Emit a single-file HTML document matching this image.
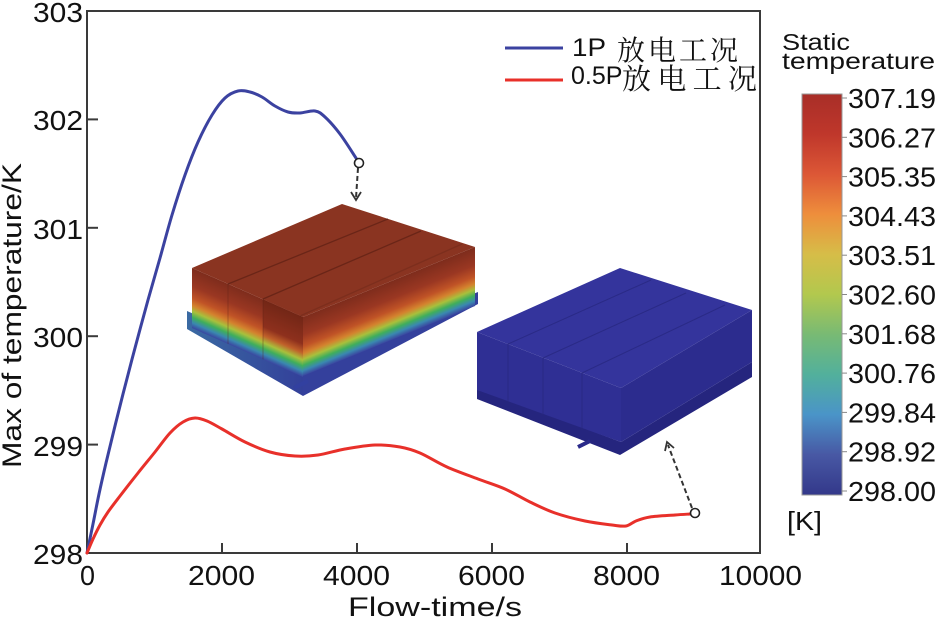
<!DOCTYPE html>
<html>
<head>
<meta charset="utf-8">
<style>
html,body{margin:0;padding:0;background:#fff;}
svg{display:block;}
text{font-family:"Liberation Sans","Noto Sans CJK SC",sans-serif;fill:#111;}
.cjk{font-family:"Liberation Serif","Noto Serif CJK SC",serif;}
</style>
</head>
<body>
<svg id="chart" width="937" height="618" viewBox="0 0 937 618" xmlns="http://www.w3.org/2000/svg">
<defs>
  <linearGradient id="cb" x1="0" y1="0" x2="0" y2="1">
    <stop offset="0" stop-color="#a82e28"/>
    <stop offset="0.1" stop-color="#bf372b"/>
    <stop offset="0.2" stop-color="#dc5736"/>
    <stop offset="0.3" stop-color="#ee8e3c"/>
    <stop offset="0.4" stop-color="#d6bd48"/>
    <stop offset="0.5" stop-color="#b2c84e"/>
    <stop offset="0.6" stop-color="#78ba74"/>
    <stop offset="0.7" stop-color="#52b09c"/>
    <stop offset="0.8" stop-color="#4a94c8"/>
    <stop offset="0.9" stop-color="#4858a4"/>
    <stop offset="1" stop-color="#33388a"/>
  </linearGradient>
  <linearGradient id="hot" x1="0" y1="0" x2="0" y2="1">
    <stop offset="0" stop-color="#7e2c1c"/>
    <stop offset="0.3" stop-color="#9a3722"/>
    <stop offset="0.5" stop-color="#c05326"/>
    <stop offset="0.62" stop-color="#d4822e"/>
    <stop offset="0.72" stop-color="#a8c03c"/>
    <stop offset="0.82" stop-color="#3fae5c"/>
    <stop offset="0.91" stop-color="#3a88b0"/>
    <stop offset="1" stop-color="#3a46a0"/>
  </linearGradient>
  <linearGradient id="hotdark" x1="0" y1="0" x2="0" y2="1">
    <stop offset="0" stop-color="#722616"/>
    <stop offset="0.45" stop-color="#8e301d"/>
    <stop offset="0.6" stop-color="#c0602a"/>
    <stop offset="0.72" stop-color="#a8c03c"/>
    <stop offset="0.82" stop-color="#3fae5c"/>
    <stop offset="0.91" stop-color="#3a88b0"/>
    <stop offset="1" stop-color="#3a46a0"/>
  </linearGradient>
  <linearGradient id="plate1" x1="0" y1="0" x2="1" y2="0">
    <stop offset="0" stop-color="#3a6aa2"/>
    <stop offset="1" stop-color="#33409a"/>
  </linearGradient>
</defs>

<!-- plot frame -->
<rect x="87" y="11" width="673" height="542" fill="none" stroke="#3a3a3a" stroke-width="2"/>
<g stroke="#3a3a3a" stroke-width="2">
  <line x1="87" y1="119.4" x2="98" y2="119.4"/>
  <line x1="87" y1="227.8" x2="98" y2="227.8"/>
  <line x1="87" y1="336.2" x2="98" y2="336.2"/>
  <line x1="87" y1="444.6" x2="98" y2="444.6"/>
  <line x1="222" y1="553" x2="222" y2="543"/>
  <line x1="357" y1="553" x2="357" y2="543"/>
  <line x1="492" y1="553" x2="492" y2="543"/>
  <line x1="627" y1="553" x2="627" y2="543"/>
</g>

<g font-size="28">
  <text x="33" y="22" textLength="50" lengthAdjust="spacingAndGlyphs">303</text>
  <text x="33" y="130" textLength="50" lengthAdjust="spacingAndGlyphs">302</text>
  <text x="33" y="239" textLength="50" lengthAdjust="spacingAndGlyphs">301</text>
  <text x="33" y="347" textLength="50" lengthAdjust="spacingAndGlyphs">300</text>
  <text x="33" y="456" textLength="50" lengthAdjust="spacingAndGlyphs">299</text>
  <text x="33" y="564" textLength="50" lengthAdjust="spacingAndGlyphs">298</text>
</g>
<g font-size="28">
  <text x="80" y="585" textLength="15" lengthAdjust="spacingAndGlyphs">0</text>
  <text x="188" y="585" textLength="67" lengthAdjust="spacingAndGlyphs">2000</text>
  <text x="323" y="585" textLength="67" lengthAdjust="spacingAndGlyphs">4000</text>
  <text x="458" y="585" textLength="67" lengthAdjust="spacingAndGlyphs">6000</text>
  <text x="593" y="585" textLength="67" lengthAdjust="spacingAndGlyphs">8000</text>
  <text x="719" y="585" textLength="83" lengthAdjust="spacingAndGlyphs">10000</text>
</g>
<text x="348" y="616" font-size="27" textLength="174" lengthAdjust="spacingAndGlyphs">Flow-time/s</text>
<text transform="translate(21,468) rotate(-90)" x="0" y="0" font-size="27" textLength="305" lengthAdjust="spacingAndGlyphs">Max of temperature/K</text>

<!-- curves -->
<polyline class="smooth" fill="none" stroke="#3b42a0" stroke-width="3" stroke-linejoin="round" stroke-linecap="round"
 points="87,553 93,524 99,494 106,463 114,430 123,394 135,348 148,300 160,258 172,215 185,175 198,142 212,115 225,98 238,91 250,92 262,97 275,106 288,112 300,113 315,111 325,117 340,134 356,158"/>
<polyline class="smooth" fill="none" stroke="#e8302a" stroke-width="3" stroke-linejoin="round" stroke-linecap="round"
 points="87,553 93,539 100,525 108,512 120,496 138,473 155,452 170,433 183,422 195,418 207,421 222,429 245,442 270,452 295,456 318,455 345,449 375,445 400,447 420,453 447,467 478,479 505,489 530,502 555,513 585,521 612,525 626,526 636,521 650,517 675,515 690,514"/>

<!-- legend -->
<line x1="505" y1="48" x2="563" y2="48" stroke="#3b42a0" stroke-width="3"/>
<line x1="505" y1="80" x2="563" y2="80" stroke="#e8302a" stroke-width="3"/>
<text x="572" y="56" font-size="25" textLength="34" lengthAdjust="spacingAndGlyphs">1P</text>
<text class="cjk" x="617" y="60" font-size="28" textLength="121" lengthAdjust="spacing">放电工况</text>
<text x="571" y="84" font-size="25">0.5P</text>
<text class="cjk" x="622" y="89" font-size="29" textLength="135" lengthAdjust="spacing">放电工况</text>

<!-- colorbar -->
<text x="782" y="50" font-size="23" textLength="68" lengthAdjust="spacingAndGlyphs">Static</text>
<text x="782" y="69" font-size="23" textLength="153" lengthAdjust="spacingAndGlyphs">temperature</text>
<rect x="802" y="94" width="40" height="401" fill="url(#cb)" stroke="#999" stroke-width="1"/>
<g stroke="#888" stroke-width="1">
  <line x1="842" y1="98" x2="847" y2="98"/>
  <line x1="842" y1="137.3" x2="847" y2="137.3"/>
  <line x1="842" y1="176.6" x2="847" y2="176.6"/>
  <line x1="842" y1="215.9" x2="847" y2="215.9"/>
  <line x1="842" y1="255.2" x2="847" y2="255.2"/>
  <line x1="842" y1="294.5" x2="847" y2="294.5"/>
  <line x1="842" y1="333.8" x2="847" y2="333.8"/>
  <line x1="842" y1="373.1" x2="847" y2="373.1"/>
  <line x1="842" y1="412.4" x2="847" y2="412.4"/>
  <line x1="842" y1="451.7" x2="847" y2="451.7"/>
  <line x1="842" y1="491" x2="847" y2="491"/>
</g>
<g font-size="28">
  <text x="848" y="108" textLength="88" lengthAdjust="spacingAndGlyphs">307.19</text>
  <text x="848" y="147.3" textLength="88" lengthAdjust="spacingAndGlyphs">306.27</text>
  <text x="848" y="186.6" textLength="88" lengthAdjust="spacingAndGlyphs">305.35</text>
  <text x="848" y="225.9" textLength="88" lengthAdjust="spacingAndGlyphs">304.43</text>
  <text x="848" y="265.2" textLength="88" lengthAdjust="spacingAndGlyphs">303.51</text>
  <text x="848" y="304.5" textLength="88" lengthAdjust="spacingAndGlyphs">302.60</text>
  <text x="848" y="343.8" textLength="88" lengthAdjust="spacingAndGlyphs">301.68</text>
  <text x="848" y="383.1" textLength="88" lengthAdjust="spacingAndGlyphs">300.76</text>
  <text x="848" y="422.4" textLength="88" lengthAdjust="spacingAndGlyphs">299.84</text>
  <text x="848" y="461.7" textLength="88" lengthAdjust="spacingAndGlyphs">298.92</text>
  <text x="848" y="501" textLength="88" lengthAdjust="spacingAndGlyphs">298.00</text>
</g>
<text x="787" y="530" font-size="26" textLength="35" lengthAdjust="spacingAndGlyphs">[K]</text>

<!-- Box 1 (hot) -->
<polygon points="187,311 303,362 303,396 187,329" fill="url(#plate1)"/>
<polygon points="303,362 478,292 478,304 303,396" fill="#34409c"/>
<ellipse cx="208" cy="330" rx="7" ry="4" fill="#2f3a9a"/>
<line x1="294" y1="388" x2="308" y2="381" stroke="#3240a0" stroke-width="4"/>
<g transform="matrix(1,0.441,0,1,192,268)">
  <rect x="0" y="0" width="111" height="60" fill="url(#hot)"/>
  <rect x="71" y="0" width="40" height="60" fill="url(#hotdark)"/>
  <line x1="36" y1="0" x2="36" y2="60" stroke="#5a2014" stroke-opacity="0.35" stroke-width="1"/>
  <line x1="71" y1="0" x2="71" y2="60" stroke="#5a2014" stroke-opacity="0.35" stroke-width="1"/>
</g>
<g transform="matrix(1,-0.407,0,1,303,317)">
  <rect x="0" y="0" width="172" height="59" fill="url(#hot)"/>
</g>
<polygon points="342,204 475,247 303,317 192,268" fill="#8a3421"/>
<g stroke="#5c2014" stroke-width="1.3" stroke-opacity="0.7">
  <line x1="228" y1="284" x2="388" y2="219"/>
  <line x1="263" y1="299" x2="421" y2="231"/>
  <line x1="300" y1="316" x2="462" y2="244" stroke-opacity="0.3"/>
</g>

<!-- Box 2 (cold) -->
<polygon points="477,388 621,442 752,362 752,377 620,455 477,399" fill="#25257e"/>
<line x1="578" y1="447" x2="590" y2="441" stroke="#2a2a8a" stroke-width="4"/>
<polygon points="477,332 621,388 621,442 477,390" fill="#2f2f94"/>
<polygon points="621,388 752,310 752,362 621,442" fill="#2c2c8e"/>
<polygon points="620,268 752,310 621,388 477,332" fill="#34349c"/>
<g stroke="#26267e" stroke-width="1" stroke-opacity="0.7">
  <line x1="508" y1="344" x2="508" y2="402"/>
  <line x1="543" y1="358" x2="543" y2="415"/>
  <line x1="582" y1="373" x2="582" y2="430"/>
  <line x1="508" y1="344" x2="651" y2="280"/>
  <line x1="543" y1="358" x2="686" y2="293"/>
  <line x1="582" y1="373" x2="725" y2="305"/>
</g>

<!-- arrows -->
<line x1="358" y1="168" x2="356" y2="198" stroke="#333" stroke-width="2" stroke-dasharray="5,3"/>
<polyline points="351,192 356,200 361,192" fill="none" stroke="#333" stroke-width="1.8"/>
<circle cx="359" cy="163" r="4.5" fill="#fff" stroke="#222" stroke-width="1.6"/>
<line x1="692" y1="508" x2="668" y2="445" stroke="#333" stroke-width="2" stroke-dasharray="5,3"/>
<polyline points="665,451 667,442 674,448" fill="none" stroke="#333" stroke-width="1.8"/>
<circle cx="695" cy="513" r="4.5" fill="#fff" stroke="#222" stroke-width="1.6"/>
</svg>
<script>
(function(){
  var NS="http://www.w3.org/2000/svg";
  var pls=document.querySelectorAll("polyline.smooth");
  for(var k=0;k<pls.length;k++){
    var pl=pls[k];
    var raw=pl.getAttribute("points").trim().split(/\s+/).map(function(s){var a=s.split(",");return [parseFloat(a[0]),parseFloat(a[1])];});
    var d="M"+raw[0][0]+","+raw[0][1];
    for(var i=0;i<raw.length-1;i++){
      var p0=raw[i>0?i-1:i],p1=raw[i],p2=raw[i+1],p3=raw[i+2<raw.length?i+2:i+1];
      var c1x=p1[0]+(p2[0]-p0[0])/6,c1y=p1[1]+(p2[1]-p0[1])/6;
      var c2x=p2[0]-(p3[0]-p1[0])/6,c2y=p2[1]-(p3[1]-p1[1])/6;
      d+=" C"+c1x.toFixed(2)+","+c1y.toFixed(2)+" "+c2x.toFixed(2)+","+c2y.toFixed(2)+" "+p2[0]+","+p2[1];
    }
    var path=document.createElementNS(NS,"path");
    path.setAttribute("d",d);
    ["fill","stroke","stroke-width","stroke-linejoin","stroke-linecap"].forEach(function(a){path.setAttribute(a,pl.getAttribute(a));});
    pl.parentNode.replaceChild(path,pl);
  }
})();
</script>
</body>
</html>
